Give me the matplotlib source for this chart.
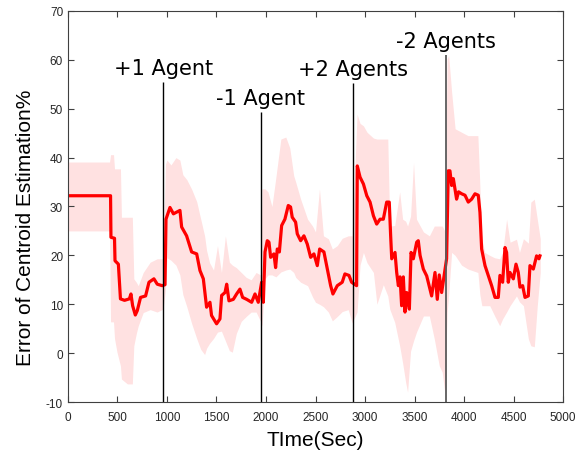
import matplotlib
matplotlib.use('Agg')
from matplotlib import pyplot as plt

# mean error (%) over time (sec)
mean_t = [0, 430, 434, 470, 475, 509, 530, 571, 620, 636, 653, 680, 700, 733,
          784, 818, 868, 902, 952, 980, 990, 1030, 1065, 1131, 1148, 1198,
          1249, 1300, 1333, 1367, 1400, 1434, 1450, 1501, 1535, 1552, 1586,
          1603, 1626, 1670, 1703, 1737, 1764, 1805, 1855, 1889, 1922, 1956,
          1973, 1990, 2013, 2030, 2047, 2080, 2097, 2114, 2135, 2158, 2191,
          2225, 2248, 2265, 2299, 2316, 2350, 2383, 2417, 2451, 2484, 2518,
          2542, 2585, 2619, 2653, 2676, 2720, 2770, 2797, 2838, 2865, 2915,
          2922, 2950, 2984, 3018, 3051, 3085, 3118, 3152, 3185, 3219, 3245,
          3259, 3270, 3303, 3320, 3337, 3354, 3370, 3387, 3404, 3421, 3448,
          3465, 3488, 3522, 3538, 3556, 3589, 3623, 3656, 3673, 3707, 3730,
          3750, 3774, 3808, 3824, 3841, 3858, 3875, 3892, 3909, 3925, 3945,
          3976, 4010, 4043, 4077, 4111, 4144, 4161, 4178, 4212, 4245, 4279,
          4313, 4346, 4363, 4390, 4414, 4430, 4447, 4464, 4498, 4525, 4548,
          4565, 4592, 4616, 4649, 4666, 4700, 4733, 4757, 4767]
mean_err = [32.2, 32.2, 23.7, 23.5, 18.9, 18.2, 11.1, 10.8, 11.1, 12.1, 9.7,
            7.8, 8.7, 11.4, 11.7, 14.5, 15.2, 14.1, 13.8, 14.0, 27.4, 29.8,
            28.5, 29.2, 25.8, 24.0, 20.7, 20.3, 16.9, 15.2, 9.4, 10.4, 7.7,
            6.0, 7.0, 11.8, 12.4, 14.1, 10.7, 11.0, 12.1, 13.1, 11.4, 11.0,
            10.4, 12.1, 10.4, 14.5, 10.4, 20.7, 23.0, 22.7, 19.6, 20.3, 17.5,
            21.3, 20.7, 26.1, 27.4, 30.2, 29.9, 27.8, 26.8, 24.4, 23.0, 24.0,
            22.3, 19.6, 20.3, 17.9, 21.3, 20.7, 17.2, 13.8, 12.1, 13.8, 14.5,
            16.2, 15.9, 14.5, 13.8, 38.3, 36.0, 34.6, 32.2, 30.9, 28.1, 26.4,
            27.4, 27.4, 30.9, 30.9, 24.0, 19.3, 20.6, 16.5, 13.8, 15.6, 9.7,
            15.6, 8.4, 12.4, 9.0, 20.6, 19.3, 22.7, 23.0, 20.0, 17.2, 15.8,
            13.1, 11.7, 16.5, 11.0, 16.0, 12.4, 17.2, 19.3, 37.3, 37.3, 34.3,
            35.7, 33.6, 31.5, 33.0, 32.6, 32.3, 30.9, 31.5, 32.6, 32.3, 28.8,
            21.3, 17.9, 15.9, 13.8, 11.4, 11.4, 15.9, 14.5, 21.6, 20.6, 14.5,
            16.5, 15.2, 18.2, 16.5, 13.5, 13.8, 11.4, 11.7, 17.9, 17.2, 19.9,
            19.3, 19.9]

# spread band (upper / lower)
band_t = [0, 420, 430, 460, 470, 495, 530, 540, 600, 650, 665, 690, 710, 760,
          830, 900, 960, 985, 1000, 1040, 1090, 1130, 1160, 1200, 1250, 1300,
          1340, 1380, 1400, 1430, 1470, 1510, 1550, 1590, 1630, 1660, 1700,
          1750, 1800, 1850, 1900, 1945, 1960, 1990, 2020, 2060, 2100, 2150,
          2200, 2240, 2280, 2300, 2350, 2420, 2470, 2500, 2540, 2580, 2630,
          2670, 2720, 2770, 2830, 2870, 2920, 2950, 2984, 3020, 3085, 3120,
          3185, 3230, 3250, 3300, 3350, 3380, 3410, 3430, 3460, 3490, 3520,
          3590, 3650, 3700, 3750, 3780, 3805, 3830, 3845, 3875, 3910, 3975,
          4040, 4140, 4160, 4180, 4210, 4260, 4310, 4360, 4390, 4430, 4465,
          4530, 4560, 4600, 4650, 4675, 4710, 4740, 4770]
band_hi = [39.1, 39.1, 40.6, 40.6, 37.7, 37.7, 37.7, 27.8, 27.8, 27.8, 15.2,
           14.5, 13.8, 16.5, 18.6, 19.3, 19.3, 38.7, 39.5, 38.5, 40.0, 39.5,
           36.5, 35.5, 33.5, 31.0, 27.5, 24.0, 21.0, 18.5, 17.0, 22.0, 16.5,
           24.0, 18.6, 18.0, 17.5, 16.5, 15.5, 15.0, 16.5, 16.0, 33.6, 33.6,
           33.0, 30.0, 36.0, 43.8, 44.2, 42.0, 36.3, 35.0, 31.5, 27.4, 26.0,
           24.8, 33.6, 24.0, 23.4, 21.3, 22.0, 23.5, 24.0, 24.0, 48.9, 47.0,
           46.5, 45.2, 44.0, 43.8, 43.8, 43.8, 26.0, 26.1, 33.0, 27.4, 27.0,
           26.0, 28.0, 39.0, 27.4, 24.8, 24.0, 26.0, 26.0, 26.0, 25.0, 60.2,
           60.9, 53.4, 45.9, 45.2, 44.5, 44.5, 34.3, 23.4, 20.6, 20.0, 19.5,
           19.3, 20.6, 27.4, 22.7, 23.3, 20.6, 23.4, 22.5, 30.9, 31.5, 27.4,
           23.4]
band_lo = [25.0, 25.0, 6.4, 6.4, 3.0, 0.2, -2.6, -5.3, -6.3, -6.3, 1.5, 4.0,
           5.6, 8.3, 8.9, 8.4, 9.0, 13.0, 19.5, 19.0, 18.0, 16.0, 12.0, 9.5,
           6.0, 3.0, 0.8, -0.3, 1.0, 2.0, 3.0, 4.3, 4.5, 2.5, 0.5, 0.2, 4.0,
           6.5, 7.5, 8.4, 8.4, 6.5, 5.6, 15.2, 16.0, 16.0, 15.6, 16.6, 17.0,
           17.2, 16.5, 15.5, 14.5, 13.8, 11.5, 10.4, 10.0, 9.5, 8.4, 6.6, 7.5,
           8.5, 8.9, 6.2, 8.4, 18.0, 20.6, 18.5, 16.5, 10.0, 14.0, 11.7, 9.0,
           6.3, 1.5, -2.0, -5.9, -8.0, 0.4, 2.5, 4.3, 7.6, 7.6, 2.9, -2.6,
           -3.9, -8.0, 8.4, 12.0, 20.6, 20.0, 18.0, 17.2, 16.5, 12.0, 9.7,
           9.7, 9.7, 7.6, 5.6, 7.0, 8.4, 9.7, 11.7, 10.5, 9.7, 2.9, 1.5, 1.3,
           9.7, 16.5]

# agent change events
event_t = [963, 1946, 2882, 3814]
event_top = [55.5, 49.3, 55.3, 61.0]
event_labels = ['+1 Agent', '-1 Agent', '+2 Agents', '-2 Agents']
event_colors = ['black', 'black', 'black', '#5a5a5a']
event_widths = [1.0, 1.0, 1.0, 1.3]

x_ticks = list(range(0, 5001, 500))
y_ticks = list(range(-10, 71, 10))


def main():
    plt.rcParams['axes.unicode_minus'] = False
    fig = plt.figure(figsize=(5.82, 4.52), dpi=100)
    ax = fig.add_axes([0.1168, 0.1084, 0.8506, 0.8651])

    ax.fill_between(band_t, band_lo, band_hi, color='#ffe1e1', linewidth=0)
    ax.plot(mean_t, mean_err, color='red', linewidth=2.3)

    for t, top, lab, c, w in zip(event_t, event_top, event_labels,
                                  event_colors, event_widths):
        ax.vlines(t, -10, top, color=c, linewidth=w)
        ax.text(t, top + 0.8, lab, ha='center', va='bottom', fontsize=15,
                family='DejaVu Sans')

    ax.set_xlim(0, 5000)
    ax.set_ylim(-10, 70)
    ax.set_xticks(x_ticks)
    ax.set_yticks(y_ticks)
    ax.tick_params(direction='in', top=True, right=True, length=4,
                   labelsize=8.5, labelcolor='#262626', color='#404040')
    ax.tick_params(axis='x', pad=6.5)
    ax.tick_params(axis='y', pad=3.5)
    for lab in ax.get_xticklabels() + ax.get_yticklabels():
        lab.set_family('Liberation Sans')
    for sp in ax.spines.values():
        sp.set_color('#404040')

    ax.set_xlabel('TIme(Sec)', fontsize=15, family='Liberation Sans',
                  va='center')
    ax.set_ylabel('Error of Centroid Estimation%', fontsize=15,
                  family='Liberation Sans', va='center')
    ax.xaxis.set_label_coords(0.5, -0.095)
    ax.yaxis.set_label_coords(-0.085, 0.448)

    fig.savefig('out.png', dpi=100)


if __name__ == "__main__":
    main()
